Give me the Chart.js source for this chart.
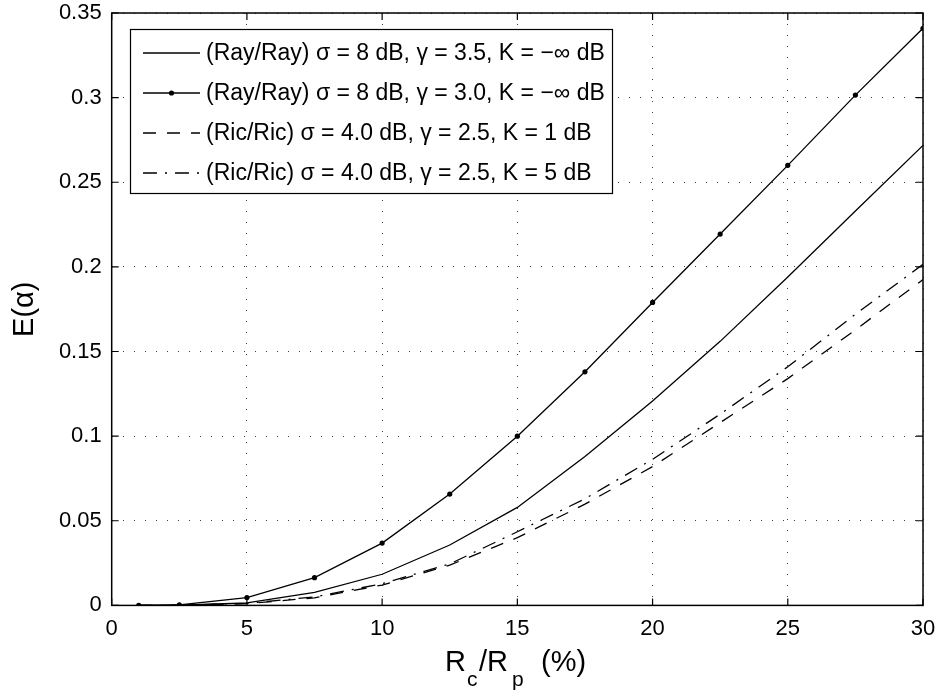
<!DOCTYPE html>
<html><head><meta charset="utf-8">
<style>html,body{margin:0;padding:0;background:#fff}#wrap{width:938px;height:696px}</style>
</head><body>
<div id="wrap"><canvas id="c" width="938" height="696"></canvas></div>
<script src="https://cdn.jsdelivr.net/npm/chart.js@4/dist/chart.umd.min.js"></script>
<script>
// ---- data ----
const categories = [1, 2.5, 5, 7.5, 10, 12.5, 15, 17.5, 20, 22.5, 25, 27.5, 30];
const rayRay35 = [0, 0.0001, 0.0015, 0.0077, 0.0184, 0.0357, 0.0579, 0.088, 0.1207, 0.156, 0.194, 0.233, 0.2718];
const rayRay30 = [0, 0.0003, 0.0046, 0.0164, 0.0368, 0.0658, 0.100, 0.138, 0.179, 0.2194, 0.260, 0.3015, 0.341];
const ricK1 = [0, 0.0001, 0.001, 0.0045, 0.012, 0.0238, 0.040, 0.0598, 0.082, 0.108, 0.134, 0.1628, 0.1925];
const ricK5 = [0, 0.0001, 0.0012, 0.005, 0.0128, 0.0245, 0.0435, 0.063, 0.0863, 0.113, 0.141, 0.172, 0.2015];
const seriesLabels = [
  '(Ray/Ray) \u03C3 = 8 dB, \u03B3 = 3.5, K = \u2212\u221E dB',
  '(Ray/Ray) \u03C3 = 8 dB, \u03B3 = 3.0, K = \u2212\u221E dB',
  '(Ric/Ric) \u03C3 = 4.0 dB, \u03B3 = 2.5, K = 1 dB',
  '(Ric/Ric) \u03C3 = 4.0 dB, \u03B3 = 2.5, K = 5 dB'
];
const xTickValues = [0, 5, 10, 15, 20, 25, 30];
const xTickLabels = ['0', '5', '10', '15', '20', '25', '30'];
const yTickValues = [0, 0.05, 0.1, 0.15, 0.2, 0.25, 0.3, 0.35];
const yTickLabels = ['0', '0.05', '0.1', '0.15', '0.2', '0.25', '0.3', '0.35'];
const yTitle = 'E(\u03B1)';

// ---- chart ----
const FONT = "'Liberation Sans', Arial, Helvetica, sans-serif";
const toPts = arr => categories.map((x, i) => ({x: x, y: arr[i]}));
const mk = (label, arr, dash, radius) => ({
  label: label, data: toPts(arr), borderColor: '#000', backgroundColor: '#000',
  borderWidth: 1.3, borderDash: dash, pointRadius: radius, pointHoverRadius: radius,
  pointBorderWidth: 0, tension: 0, fill: false
});

const frame = {
  id: 'frame',
  afterDraw(chart) {
    const ctx = chart.ctx, a = chart.chartArea, xs = chart.scales.x, ys = chart.scales.y;
    ctx.save();
    ctx.strokeStyle = '#000';
    ctx.lineWidth = 1.5;
    ctx.setLineDash([]);
    ctx.strokeRect(a.left, a.top, a.right - a.left, a.bottom - a.top);
    const T = 7;
    ctx.lineWidth = 1.2;
    ctx.beginPath();
    xTickValues.forEach(v => {
      const p = xs.getPixelForValue(v);
      ctx.moveTo(p, a.bottom); ctx.lineTo(p, a.bottom - T);
      ctx.moveTo(p, a.top); ctx.lineTo(p, a.top + T);
    });
    yTickValues.forEach(v => {
      const p = ys.getPixelForValue(v);
      ctx.moveTo(a.left, p); ctx.lineTo(a.left + T, p);
      ctx.moveTo(a.right, p); ctx.lineTo(a.right - T, p);
    });
    ctx.stroke();

    // legend
    const bx = 130.5, by = 29.5, bw = 482, bh = 164;
    ctx.fillStyle = '#fff';
    ctx.fillRect(bx, by, bw, bh);
    ctx.lineWidth = 1.2;
    ctx.strokeRect(bx, by, bw, bh);
    const rows = [53, 93, 133, 173];
    ctx.font = '23px ' + FONT;
    ctx.textBaseline = 'middle';
    ctx.textAlign = 'left';
    chart.data.datasets.forEach((ds, i) => {
      const y = rows[i];
      ctx.strokeStyle = '#000';
      ctx.lineWidth = 1.3;
      ctx.setLineDash(ds.borderDash || []);
      ctx.beginPath(); ctx.moveTo(143, y); ctx.lineTo(200, y); ctx.stroke();
      ctx.setLineDash([]);
      if (ds.pointRadius > 0) {
        ctx.fillStyle = '#000';
        ctx.beginPath(); ctx.arc(171.5, y, ds.pointRadius, 0, Math.PI * 2); ctx.fill();
      }
      ctx.fillStyle = '#000';
      ctx.fillText(ds.label, 206, y + 1);
    });

    // axis titles
    ctx.fillStyle = '#000';
    ctx.textBaseline = 'alphabetic';
    ctx.save();
    ctx.translate(33, (a.top + a.bottom) / 2);
    ctx.rotate(-Math.PI / 2);
    ctx.textAlign = 'center';
    ctx.font = '29px ' + FONT;
    ctx.fillText(yTitle, 0, 0);
    ctx.restore();

    ctx.textAlign = 'left';
    const parts = [['R', 29, 0, 445], ['c', 21, 15, 467], ['/R', 29, 0, 479], ['p', 21, 15, 512], ['(%)', 29, 0, 541]];
    parts.forEach(p => {
      ctx.font = p[1] + 'px ' + FONT;
      ctx.fillText(p[0], p[3], 671 + p[2]);
    });
    ctx.restore();
  }
};

new Chart(document.getElementById('c'), {
  type: 'line',
  data: {
    datasets: [
      mk(seriesLabels[0], rayRay35, [], 0),
      mk(seriesLabels[1], rayRay30, [], 2.6),
      mk(seriesLabels[2], ricK1, [13, 11], 0),
      mk(seriesLabels[3], ricK5, [14, 8, 2, 8], 0)
    ]
  },
  options: {
    responsive: false, animation: false, devicePixelRatio: 1,
    layout: {padding: {top: 13, right: 15, left: 0, bottom: 0}},
    plugins: {legend: {display: false}, tooltip: {enabled: false}},
    scales: {
      x: {
        type: 'linear', min: 0, max: 30,
        afterBuildTicks: s => { s.ticks = xTickValues.map(v => ({value: v})); },
        afterFit: s => { s.height = 90.6; s.paddingLeft = 0; s.paddingRight = 0; },
        grid: {color: 'rgba(0,0,0,0.75)', lineWidth: 1, drawTicks: false, tickLength: 0},
        border: {display: false, dash: [1, 10]},
        ticks: {font: {family: FONT, size: 22}, color: '#000', padding: 10, maxRotation: 0,
                callback: (v, i) => xTickLabels[i]}
      },
      y: {
        type: 'linear', min: 0, max: 0.35,
        afterBuildTicks: s => { s.ticks = yTickValues.map(v => ({value: v})); },
        afterFit: s => { s.width = 111.7; s.paddingTop = 0; s.paddingBottom = 0; },
        grid: {color: 'rgba(0,0,0,0.75)', lineWidth: 1, drawTicks: false, tickLength: 0},
        border: {display: false, dash: [1, 10]},
        ticks: {font: {family: FONT, size: 22}, color: '#000', padding: 10,
                callback: (v, i) => yTickLabels[i]}
      }
    }
  },
  plugins: [frame]
});
</script>
</body></html>
